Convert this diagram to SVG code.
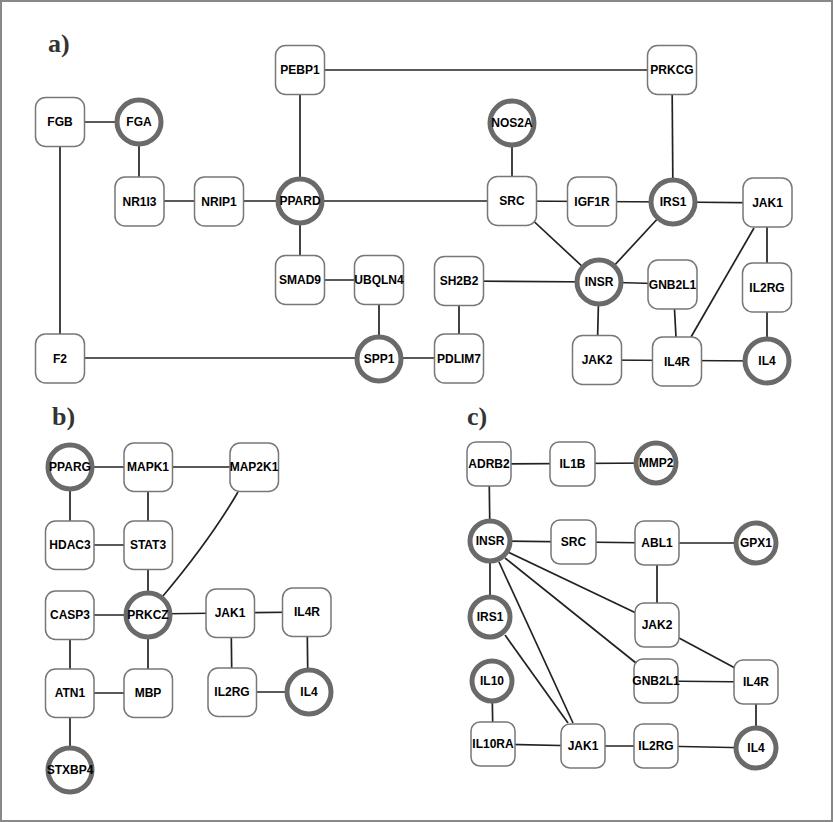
<svg xmlns="http://www.w3.org/2000/svg" width="834" height="822" viewBox="0 0 834 822">
<style>
.r{fill:#fff;stroke:#777;stroke-width:1.5}
.c{fill:#fff;stroke:#6a6a6a;stroke-width:5}
.t{font-family:"Liberation Sans",Arial,sans-serif;font-weight:bold;font-size:12px;fill:#000;text-anchor:middle;dominant-baseline:central}
.lab{font-family:"Liberation Serif","Times New Roman",serif;font-weight:bold;font-size:26px;fill:#333}
#edges line,#edges path{stroke:#222;stroke-width:1.7;fill:none}
</style>
<rect x="1" y="1" width="831" height="820" fill="#fff" stroke="#888" stroke-width="2"/>
<text class="lab" x="48" y="52">a)</text>
<text class="lab" x="52" y="425">b)</text>
<text class="lab" x="467" y="425">c)</text>
<g id="edges">
<!-- panel a -->
<line x1="60" y1="122" x2="139" y2="122"/>
<line x1="60" y1="122" x2="60" y2="358"/>
<line x1="139" y1="122" x2="139" y2="201"/>
<line x1="139" y1="201" x2="300" y2="201"/>
<line x1="300" y1="70" x2="300" y2="280"/>
<line x1="300" y1="70" x2="672" y2="70"/>
<line x1="300" y1="201" x2="512" y2="201"/>
<line x1="300" y1="280" x2="379" y2="280"/>
<line x1="379" y1="280" x2="379" y2="358"/>
<line x1="60" y1="358" x2="459" y2="358"/>
<line x1="459" y1="281" x2="459" y2="358"/>
<line x1="459" y1="281" x2="599" y2="282"/>
<line x1="512" y1="123" x2="512" y2="201"/>
<line x1="512" y1="201" x2="673" y2="202"/>
<line x1="512" y1="201" x2="599" y2="282"/>
<line x1="673" y1="202" x2="599" y2="282"/>
<line x1="672" y1="70" x2="673" y2="202"/>
<line x1="673" y1="202" x2="767" y2="203"/>
<line x1="767" y1="203" x2="767" y2="360"/>
<line x1="754" y1="228" x2="691" y2="337"/>
<line x1="599" y1="282" x2="672" y2="284"/>
<line x1="599" y1="282" x2="597" y2="360"/>
<line x1="674" y1="300" x2="676" y2="337"/>
<line x1="597" y1="360" x2="767" y2="361"/>
<!-- panel b -->
<line x1="70" y1="467" x2="254" y2="467"/>
<line x1="70" y1="467" x2="70" y2="545"/>
<line x1="148" y1="467" x2="148" y2="693"/>
<line x1="70" y1="545" x2="148" y2="545"/>
<path d="M238,492 Q210,540 163,596"/>
<line x1="70" y1="615" x2="148" y2="615"/>
<line x1="148" y1="614" x2="230" y2="613"/>
<line x1="230" y1="613" x2="307" y2="612"/>
<line x1="70" y1="615" x2="70" y2="770"/>
<line x1="70" y1="693" x2="148" y2="693"/>
<line x1="231" y1="613" x2="232" y2="692"/>
<line x1="307" y1="612" x2="308" y2="692"/>
<line x1="232" y1="692" x2="309" y2="692"/>
<!-- panel c -->
<line x1="489" y1="464" x2="656" y2="463"/>
<line x1="489" y1="464" x2="490" y2="541"/>
<line x1="490" y1="541" x2="657" y2="543"/>
<line x1="657" y1="543" x2="756" y2="543"/>
<line x1="657" y1="543" x2="657" y2="625"/>
<line x1="490" y1="541" x2="490" y2="617"/>
<line x1="499" y1="562" x2="573" y2="723"/>
<line x1="505" y1="635" x2="568" y2="723"/>
<line x1="508" y1="552" x2="636" y2="613"/>
<line x1="505" y1="558" x2="636" y2="663"/>
<line x1="679" y1="638" x2="735" y2="668"/>
<line x1="656" y1="681" x2="756" y2="682"/>
<line x1="756" y1="682" x2="756" y2="748"/>
<line x1="492" y1="681" x2="493" y2="744"/>
<line x1="493" y1="744" x2="583" y2="746"/>
<line x1="583" y1="746" x2="656" y2="746"/>
<line x1="656" y1="746" x2="756" y2="748"/>
</g>
<!-- panel a nodes -->
<g id="a-FGB"><rect class="r" x="35.5" y="97.5" width="49" height="49" rx="10"/><text class="t" x="60" y="122">FGB</text></g>
<g id="a-FGA"><circle class="c" cx="139" cy="122" r="22"/><text class="t" x="139" y="122">FGA</text></g>
<g id="a-NR1I3"><rect class="r" x="115" y="177" width="49" height="49" rx="10"/><text class="t" x="139.5" y="201.5">NR1I3</text></g>
<g id="a-NRIP1"><rect class="r" x="194.5" y="177" width="49" height="49" rx="10"/><text class="t" x="219" y="201.5">NRIP1</text></g>
<g id="a-PPARD"><circle class="c" cx="300" cy="201" r="22"/><text class="t" x="300" y="201">PPARD</text></g>
<g id="a-PEBP1"><rect class="r" x="275.5" y="45.5" width="49" height="49" rx="10"/><text class="t" x="300" y="70">PEBP1</text></g>
<g id="a-PRKCG"><rect class="r" x="647.5" y="45.5" width="49" height="49" rx="10"/><text class="t" x="672" y="70">PRKCG</text></g>
<g id="a-NOS2A"><circle class="c" cx="512" cy="123" r="22"/><text class="t" x="512" y="123">NOS2A</text></g>
<g id="a-SRC"><rect class="r" x="487.5" y="176.5" width="49" height="49" rx="10"/><text class="t" x="512" y="201">SRC</text></g>
<g id="a-IGF1R"><rect class="r" x="567.5" y="177" width="49" height="49" rx="10"/><text class="t" x="592" y="201.5">IGF1R</text></g>
<g id="a-IRS1"><circle class="c" cx="673" cy="202" r="22"/><text class="t" x="673" y="202">IRS1</text></g>
<g id="a-JAK1"><rect class="r" x="743" y="178" width="49" height="49" rx="10"/><text class="t" x="767.5" y="202.5">JAK1</text></g>
<g id="a-SMAD9"><rect class="r" x="275.5" y="255.5" width="49" height="49" rx="10"/><text class="t" x="300" y="280">SMAD9</text></g>
<g id="a-UBQLN4"><rect class="r" x="354.5" y="255.5" width="49" height="49" rx="10"/><text class="t" x="379" y="280">UBQLN4</text></g>
<g id="a-SH2B2"><rect class="r" x="434.5" y="256.5" width="49" height="49" rx="10"/><text class="t" x="459" y="281">SH2B2</text></g>
<g id="a-INSR"><circle class="c" cx="599" cy="282" r="22"/><text class="t" x="599" y="282">INSR</text></g>
<g id="a-GNB2L1"><rect class="r" x="648" y="260" width="49" height="49" rx="10"/><text class="t" x="672.5" y="284.5">GNB2L1</text></g>
<g id="a-IL2RG"><rect class="r" x="742.5" y="263" width="49" height="49" rx="10"/><text class="t" x="767" y="287.5">IL2RG</text></g>
<g id="a-F2"><rect class="r" x="35.5" y="334" width="49" height="49" rx="10"/><text class="t" x="60" y="358.5">F2</text></g>
<g id="a-SPP1"><circle class="c" cx="379" cy="359" r="22"/><text class="t" x="379" y="359">SPP1</text></g>
<g id="a-PDLIM7"><rect class="r" x="434.5" y="334" width="49" height="49" rx="10"/><text class="t" x="459" y="358.5">PDLIM7</text></g>
<g id="a-JAK2"><rect class="r" x="572.5" y="335.5" width="49" height="49" rx="10"/><text class="t" x="597" y="360">JAK2</text></g>
<g id="a-IL4R"><rect class="r" x="652.5" y="337" width="49" height="49" rx="10"/><text class="t" x="677" y="361.5">IL4R</text></g>
<g id="a-IL4"><circle class="c" cx="767" cy="361" r="22"/><text class="t" x="767" y="361">IL4</text></g>
<!-- panel b nodes -->
<g id="b-PPARG"><circle class="c" cx="70" cy="467" r="22"/><text class="t" x="70" y="467">PPARG</text></g>
<g id="b-MAPK1"><rect class="r" x="124" y="443" width="48.5" height="48.5" rx="10"/><text class="t" x="148" y="467">MAPK1</text></g>
<g id="b-MAP2K1"><rect class="r" x="230" y="443" width="48.5" height="48.5" rx="10"/><text class="t" x="254" y="467">MAP2K1</text></g>
<g id="b-HDAC3"><rect class="r" x="45.5" y="521" width="48.5" height="48.5" rx="10"/><text class="t" x="70" y="545">HDAC3</text></g>
<g id="b-STAT3"><rect class="r" x="124" y="521" width="48.5" height="48.5" rx="10"/><text class="t" x="148" y="545">STAT3</text></g>
<g id="b-CASP3"><rect class="r" x="45.5" y="591" width="48.5" height="48.5" rx="10"/><text class="t" x="70" y="615">CASP3</text></g>
<g id="b-PRKCZ"><circle class="c" cx="148" cy="615" r="22"/><text class="t" x="148" y="615">PRKCZ</text></g>
<g id="b-JAK1"><rect class="r" x="206" y="589" width="48.5" height="48.5" rx="10"/><text class="t" x="230" y="613">JAK1</text></g>
<g id="b-IL4R"><rect class="r" x="282.5" y="588" width="48.5" height="48.5" rx="10"/><text class="t" x="307" y="612">IL4R</text></g>
<g id="b-ATN1"><rect class="r" x="45.5" y="669" width="48.5" height="48.5" rx="10"/><text class="t" x="70" y="693">ATN1</text></g>
<g id="b-MBP"><rect class="r" x="124" y="669" width="48.5" height="48.5" rx="10"/><text class="t" x="148" y="693">MBP</text></g>
<g id="b-IL2RG"><rect class="r" x="208" y="668" width="48.5" height="48.5" rx="10"/><text class="t" x="232" y="692">IL2RG</text></g>
<g id="b-IL4"><circle class="c" cx="309" cy="692" r="22"/><text class="t" x="309" y="692">IL4</text></g>
<g id="b-STXBP4"><circle class="c" cx="70" cy="770" r="22"/><text class="t" x="70" y="770">STXBP4</text></g>
<!-- panel c nodes -->
<g id="c-ADRB2"><rect class="r" x="467" y="442" width="44" height="44" rx="9"/><text class="t" x="489" y="464">ADRB2</text></g>
<g id="c-IL1B"><rect class="r" x="550" y="442" width="45" height="44" rx="9"/><text class="t" x="572.5" y="464">IL1B</text></g>
<g id="c-MMP2"><circle class="c" cx="656" cy="463" r="20"/><text class="t" x="656" y="463">MMP2</text></g>
<g id="c-INSR"><circle class="c" cx="490" cy="541" r="20"/><text class="t" x="490" y="541">INSR</text></g>
<g id="c-SRC"><rect class="r" x="551" y="520" width="45" height="44" rx="9"/><text class="t" x="573.5" y="542">SRC</text></g>
<g id="c-ABL1"><rect class="r" x="635" y="521" width="44" height="44" rx="9"/><text class="t" x="657" y="543">ABL1</text></g>
<g id="c-GPX1"><circle class="c" cx="756" cy="543" r="20"/><text class="t" x="756" y="543">GPX1</text></g>
<g id="c-IRS1"><circle class="c" cx="490" cy="617" r="20"/><text class="t" x="490" y="617">IRS1</text></g>
<g id="c-JAK2"><rect class="r" x="635" y="603" width="44" height="44" rx="9"/><text class="t" x="657" y="625">JAK2</text></g>
<g id="c-IL10"><circle class="c" cx="492" cy="681" r="20"/><text class="t" x="492" y="681">IL10</text></g>
<g id="c-GNB2L1"><rect class="r" x="634" y="659" width="44" height="44" rx="9"/><text class="t" x="656" y="681">GNB2L1</text></g>
<g id="c-IL4R"><rect class="r" x="734" y="660" width="44" height="44" rx="9"/><text class="t" x="756" y="682">IL4R</text></g>
<g id="c-IL10RA"><rect class="r" x="471" y="722" width="44" height="44" rx="9"/><text class="t" x="493" y="744">IL10RA</text></g>
<g id="c-JAK1"><rect class="r" x="561" y="724" width="44" height="44" rx="9"/><text class="t" x="583" y="746">JAK1</text></g>
<g id="c-IL2RG"><rect class="r" x="634" y="724" width="44" height="44" rx="9"/><text class="t" x="656" y="746">IL2RG</text></g>
<g id="c-IL4"><circle class="c" cx="756" cy="748" r="20"/><text class="t" x="756" y="748">IL4</text></g>
</svg>
